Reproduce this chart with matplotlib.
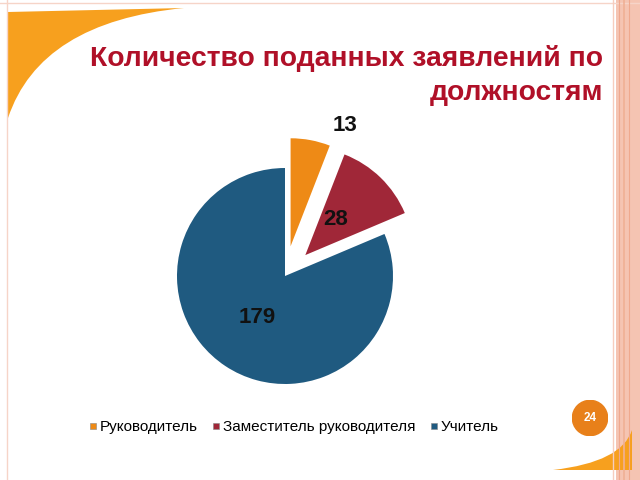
import numpy as np
import matplotlib
matplotlib.use("Agg")
import matplotlib.pyplot as plt
from matplotlib.patches import Circle, Rectangle, PathPatch
from matplotlib.path import Path
from matplotlib.lines import Line2D

categories = ["Руководитель", "Заместитель руководителя", "Учитель"]
values = [13, 28, 179]
colors = ["#EE8A16", "#A02738", "#1F5A80"]
explode = [0.28, 0.27, 0.0]
label_dist = [1.5, 0.70, 0.46]
label_dtheta = [-11, 2, 0]
title_lines = ["Количество поданных заявлений по", "должностям"]
slide_no = "24"

plt.rcParams['font.family'] = ['Liberation Sans', 'DejaVu Sans']
fig = plt.figure(figsize=(6.4, 4.8), dpi=100)
fig.patch.set_facecolor("white")

def fx(x): return x / 640
def fy(y): return 1 - y / 480

# top-left orange swoosh
verts = [(fx(8), fy(12)), (fx(184), fy(8)), (fx(40), fy(22)), (fx(8), fy(118)), (fx(8), fy(12))]
codes = [Path.MOVETO, Path.LINETO, Path.CURVE3, Path.CURVE3, Path.CLOSEPOLY]
fig.patches.append(PathPatch(Path(verts, codes), transform=fig.transFigure,
                             facecolor="#F7A01E", edgecolor="none"))
# thin frame lines
fig.add_artist(Line2D([fx(7), fx(7)], [0, 1], transform=fig.transFigure, color="#F6D4C8", lw=1))
fig.add_artist(Line2D([0, 1], [fy(3), fy(3)], transform=fig.transFigure, color="#F6D4C8", lw=1))
# right band
fig.patches.append(Rectangle((fx(616), 0), fx(24), 1, transform=fig.transFigure,
                             facecolor="#F5C4B2", edgecolor="none"))
for x, c, w in [(613, "#F6CDBE", 1.0), (619, "#EFA98E", 0.8), (624, "#F0B095", 1.2), (629, "#EFA98E", 0.8)]:
    fig.add_artist(Line2D([fx(x), fx(x)], [0, 1], transform=fig.transFigure, color=c, lw=w))
# bottom-right swoosh
verts2 = [(fx(553), fy(470)), (fx(622), fy(462)), (fx(632), fy(430)), (fx(632), fy(470)), (fx(553), fy(470))]
codes2 = [Path.MOVETO, Path.CURVE3, Path.CURVE3, Path.LINETO, Path.CLOSEPOLY]
fig.patches.append(PathPatch(Path(verts2, codes2), transform=fig.transFigure,
                             facecolor="#F7A01E", edgecolor="none"))
# slide number circle
ax_c = fig.add_axes([fx(572), fy(436), fx(36), 36 / 480])
ax_c.set_xlim(-1, 1); ax_c.set_ylim(-1, 1); ax_c.axis("off")
ax_c.add_patch(Circle((0, 0), 0.98, color="#E8801A"))
ax_c.text(0, 0, slide_no, ha="center", va="center", color="white", fontsize=8.5, fontweight="bold")

# title
fig.text(fx(603), fy(66), title_lines[0], ha="right", va="baseline",
         color="#B01028", fontsize=20.3, fontweight="bold")
fig.text(fx(603), fy(100), title_lines[1], ha="right", va="baseline",
         color="#B01028", fontsize=20.3, fontweight="bold")

# pie
R = 108
cx, cy = 285, 276
w = 3.2 * R
ax = fig.add_axes([fx(cx - w / 2), fy(cy + w / 2), w / 640, w / 480])
wedges, _ = ax.pie(values, colors=colors, explode=explode, startangle=90, counterclock=False,
                   radius=1.0, wedgeprops=dict(linewidth=0))
ax.set_xlim(-1.6, 1.6); ax.set_ylim(-1.6, 1.6); ax.set_aspect("equal"); ax.axis("off")
for wdg, v, d, dt in zip(wedges, values, label_dist, label_dtheta):
    mid = np.deg2rad((wdg.theta1 + wdg.theta2) / 2 + dt)
    ax.text(d * np.cos(mid), d * np.sin(mid), str(v), ha="center", va="center",
            fontsize=16, fontweight="bold", color="#111111")

# legend
handles = [Line2D([], [], marker="s", linestyle="none", markersize=5, markerfacecolor=c,
                  markeredgecolor="#888888", markeredgewidth=0.4) for c in colors]
fig.legend(handles, categories, loc="center left", bbox_to_anchor=(fx(86), fy(427)),
           ncol=3, frameon=False, fontsize=11, handletextpad=0.0, columnspacing=0.75,
           handlelength=0.9, borderaxespad=0, borderpad=0)

fig.savefig("out.png", dpi=100)
